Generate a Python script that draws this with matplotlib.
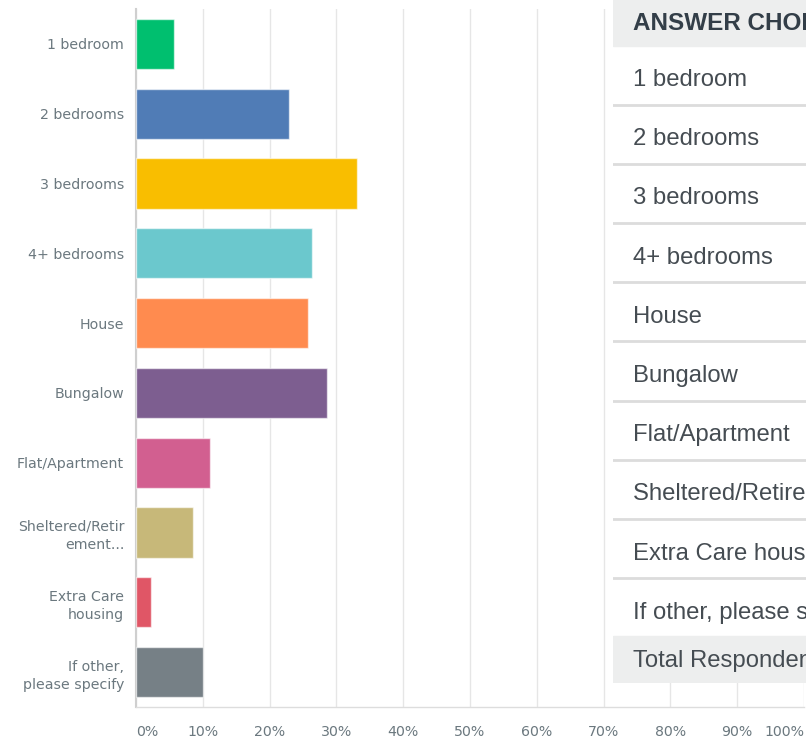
import matplotlib.pyplot as plt
from matplotlib.patches import Rectangle

# survey answers (percent of respondents)
labels = ['1 bedroom', '2 bedrooms', '3 bedrooms', '4+ bedrooms', 'House', 'Bungalow',
          'Flat/Apartment', 'Sheltered/Retir\nement...', 'Extra Care\nhousing',
          'If other,\nplease specify']
values = [5.7, 22.9, 33.1, 26.4, 25.8, 28.6, 11.1, 8.6, 2.3, 10.1]
colors = ['#00BF6F', '#507CB6', '#F9BE00', '#6BC8CD', '#FF8B4F', '#7D5E90',
          '#D25F90', '#C7B879', '#E05666', '#768086']
ticks = [0, 10, 20, 30, 40, 50, 60, 70, 80, 90, 100]

table_rows = ['1 bedroom', '2 bedrooms', '3 bedrooms', '4+ bedrooms', 'House', 'Bungalow',
              'Flat/Apartment', 'Sheltered/Retirement housing', 'Extra Care housing',
              'If other, please specify']
table_header = 'ANSWER CHOICES'
table_total = 'Total Respondents'

W, H = 806, 740
fig = plt.figure(figsize=(W / 100, H / 100), dpi=100)
ax = fig.add_axes([136 / W, (H - 707) / H, (804 - 136) / W, (707 - 9) / H])

ypos = list(range(len(labels)))
ax.barh(ypos, values, height=0.72, color=colors, edgecolor=(1, 1, 1, 0.6), linewidth=1, zorder=3)
ax.set_xlim(0, 100)
ax.set_ylim(len(labels) - 0.5, -0.5)

ax.set_yticks(ypos)
ax.set_yticklabels(labels, fontsize=10.2, color='#6B787F', family='DejaVu Sans', linespacing=1.4)
ax.set_xticks(ticks)
ax.set_xticklabels([f'{t}%' for t in ticks], fontsize=10.2, color='#6B787F')
xl = ax.get_xticklabels()
xl[0].set_horizontalalignment('left')
xl[-1].set_horizontalalignment('right')
ax.tick_params(axis='y', length=0, pad=8.5)
ax.tick_params(axis='x', length=0, pad=13)

ax.grid(axis='x', color='#e6e6e6', linewidth=1, zorder=0)
for s in ['top', 'right']:
    ax.spines[s].set_visible(False)
ax.spines['left'].set_color('#cfcfcf')
ax.spines['left'].set_linewidth(1.5)
ax.spines['bottom'].set_color('#dddddd')
ax.spines['bottom'].set_linewidth(1)

# summary table overlaid on the right (clipped like the screenshot)
tx0, tx1 = 613, 806
tab = fig.add_axes([tx0 / W, (H - 683) / H, (tx1 - tx0) / W, 683 / H])
tab.set_xlim(tx0, tx1)
tab.set_ylim(683, 0)
tab.axis('off')
tab.add_patch(Rectangle((tx0, 0), tx1 - tx0, 683, color='white', zorder=0))
tab.add_patch(Rectangle((tx0, 0), tx1 - tx0, 46, color='#edeeee', zorder=1))
tab.text(633, 24, table_header, fontsize=17.5, fontweight='bold', color='#333e48',
         family='Liberation Sans', va='center', ha='left', clip_on=True)
row_h = 59.2
for i, r in enumerate(table_rows):
    yc = 78 + i * row_h
    tab.text(633, yc + 2, r, fontsize=17.2, color='#454c52', family='Liberation Sans',
             va='center', ha='left', clip_on=True)
    if i < len(table_rows) - 1:
        tab.plot([tx0, tx1], [yc + 26.5, yc + 26.5], color='#dcdcdc', linewidth=2, zorder=2)
tab.add_patch(Rectangle((tx0, 636), tx1 - tx0, 47, color='#edeeee', zorder=1))
tab.text(633, 661, table_total, fontsize=17.2, color='#454c52', family='Liberation Sans',
         va='center', ha='left', clip_on=True)

fig.savefig('out.png', dpi=100)
